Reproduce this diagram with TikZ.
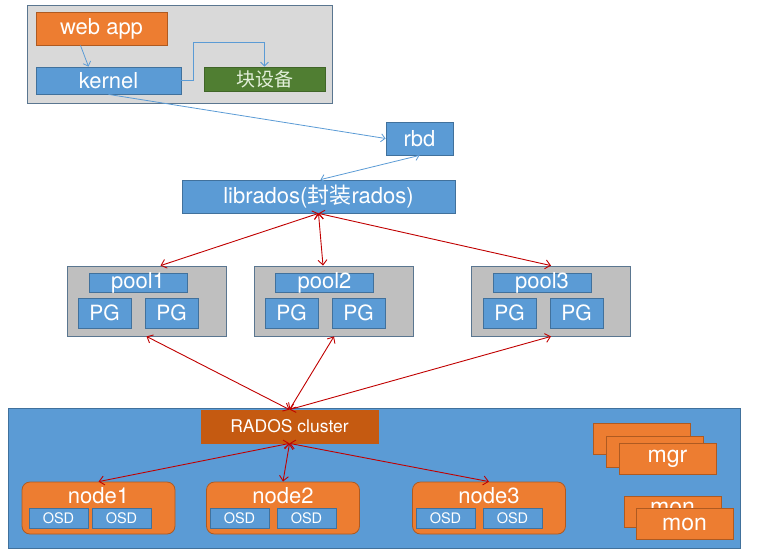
\documentclass[tikz,border=0pt]{standalone}
\usepackage{fontspec}
\setmainfont{TeX Gyre Heros}
\newfontfamily\cjk{Noto Sans CJK SC}
\usepackage{xcolor}
\usetikzlibrary{arrows.meta}

\definecolor{appblue}{HTML}{5B9BD5}
\definecolor{boxline}{HTML}{41719C}
\definecolor{apporange}{HTML}{ED7D31}
\definecolor{orangeline}{HTML}{AE5A21}
\definecolor{radosorange}{HTML}{C55A11}
\definecolor{devgreen}{HTML}{507E32}
\definecolor{devtext}{HTML}{E2EFD9}
\definecolor{poolgray}{HTML}{BFBFBF}
\definecolor{hostgray}{HTML}{D9D9D9}
\definecolor{grayline}{HTML}{5A7690}
\definecolor{linkred}{HTML}{C00000}

\tikzset{
  box/.style={draw=boxline, line width=0.8pt, inner sep=0pt, text=white,
    font=\fontsize{22}{24}\selectfont},
  bluebox/.style={box, fill=appblue},
  orangebox/.style={box, draw=orangeline, fill=apporange},
  graybox/.style={draw=grayline, line width=0.8pt, fill=poolgray, inner sep=0pt},
  poolbox/.style={graybox, minimum width=159pt, minimum height=70pt},
  poolname/.style={bluebox, minimum width=98pt, minimum height=19pt,
    text height=15pt, text depth=4pt},
  pgbox/.style={bluebox, minimum width=53pt, minimum height=30pt, font=\fontsize{21}{23}\selectfont},
  hostbox/.style={orangebox, rounded corners=8pt, minimum width=153pt, minimum height=52pt},
  hostname/.style={inner sep=0pt, text=white, font=\fontsize{22}{24}\selectfont},
  osdbox/.style={bluebox, minimum width=59pt, minimum height=20pt, font=\fontsize{14.5}{16}\selectfont},
  stackbox/.style={orangebox, minimum width=97pt, minimum height=31pt, font=\fontsize{23}{25}\selectfont},
  blueline/.style={draw=appblue, line width=0.8pt, -{Straight Barb[length=4pt, width=8pt]}},
  bluelines/.style={blueline, {Straight Barb[length=4pt, width=8pt]}-{Straight Barb[length=4pt, width=8pt]}},
  redline/.style={draw=linkred, line width=0.9pt,
    {Straight Barb[length=5pt, width=9pt]}-{Straight Barb[length=5pt, width=9pt]}},
}

\begin{document}
\begin{tikzpicture}[x=1pt, y=-1pt]
  \useasboundingbox (0,0) rectangle (760,555);

  % client host
  \node[graybox, fill=hostgray, minimum width=305pt, minimum height=98pt] (host) at (179.5,54) {};
  \node[orangebox, minimum width=131pt, minimum height=33pt] (webapp) at (101.5,28.5) {web app};
  \node[bluebox, minimum width=145pt, minimum height=27pt] (kernel) at (108.5,80.5) {kernel};
  \node[box, draw=devgreen!80!black, fill=devgreen, text=devtext, minimum width=121pt, minimum height=24pt,
    font={\cjk\fontsize{19}{21}\selectfont}] (dev) at (264.5,79) {块设备};

  % rbd and librados
  \node[bluebox, minimum width=67pt, minimum height=33pt] (rbd) at (419.5,138.5) {rbd};
  \node[bluebox, minimum width=273pt, minimum height=33pt] (librados) at (318.5,196.5) {librados({\cjk 封装}rados)};

  % pools
  \node[poolbox] (pool1) at (146.5,301) {};
  \node[poolname] (pool1name) at (138,282.5) {pool1};
  \node[pgbox] (pg11) at (104.5,313) {PG};
  \node[pgbox] (pg12) at (171.5,313) {PG};

  \node[poolbox] (pool2) at (334,301) {};
  \node[poolname] (pool2name) at (324.5,282.5) {pool2};
  \node[pgbox] (pg21) at (291.5,313) {PG};
  \node[pgbox] (pg22) at (358.5,313) {PG};

  \node[poolbox] (pool3) at (551,301) {};
  \node[poolname] (pool3name) at (542,282.5) {pool3};
  \node[pgbox] (pg31) at (509.5,313) {PG};
  \node[pgbox] (pg32) at (576.5,313) {PG};

  % cluster
  \node[draw=boxline, line width=0.8pt, fill=appblue, minimum width=732pt, minimum height=140pt] (cluster) at (374,478) {};
  \node[box, draw=radosorange, fill=radosorange, minimum width=177pt, minimum height=33pt,
    font=\fontsize{17.5}{19}\selectfont] (rados) at (289.5,426.5) {RADOS cluster};

  \node[hostbox] (node1) at (98.5,508) {};
  \node[hostname] (node1name) at (98.5,496) {node1};
  \node[osdbox] (osd11) at (58.5,518) {OSD};
  \node[osdbox] (osd12) at (121.5,518) {OSD};

  \node[hostbox] (node2) at (283,508) {};
  \node[hostname] (node2name) at (283,496) {node2};
  \node[osdbox] (osd21) at (239.5,518) {OSD};
  \node[osdbox] (osd22) at (306.5,518) {OSD};

  \node[hostbox] (node3) at (489,508) {};
  \node[hostname] (node3name) at (489,496) {node3};
  \node[osdbox] (osd31) at (445.5,518) {OSD};
  \node[osdbox] (osd32) at (512.5,518) {OSD};

  % mgr and mon stacks
  \node[stackbox] (mgr1) at (641.5,438.5) {};
  \node[stackbox] (mgr2) at (654.5,451.5) {};
  \node[stackbox] (mgr3) at (667.5,458.5) {mgr};
  \node[stackbox] (mon1) at (672.5,511.5) {};
  \node[hostname, font=\fontsize{23}{25}\selectfont] (mon1name) at (672.5,508.5) {mon};
  \node[stackbox] (mon2) at (684.5,524) {mon};

  % blue links
  \draw[blueline] ([xshift=-21pt]webapp.south) -- ([xshift=-20pt]kernel.north);
  \draw[blueline] (kernel.east) -- ++(12,0) |- ([yshift=24pt]dev.north) -- (dev.north);
  \draw[blueline] (kernel.south) -- (rbd.west);
  \draw[bluelines] (rbd.south) -- ([xshift=2pt]librados.north);

  % red links
  \draw[redline] (librados.south) -- ([xshift=14pt]pool1.north);
  \draw[redline] (librados.south) -- ([xshift=-11pt]pool2.north);
  \draw[redline] (librados.south) -- (pool3.north);
  \draw[redline] (pool1.south) -- (rados.north);
  \draw[redline] (pool2.south) -- (rados.north);
  \draw[redline] (pool3.south) -- (rados.north);
  \draw[redline] (rados.south) -- (node1.north);
  \draw[redline] (rados.south) -- (node2.north);
  \draw[redline] (rados.south) -- (node3.north);
\end{tikzpicture}
\end{document}
